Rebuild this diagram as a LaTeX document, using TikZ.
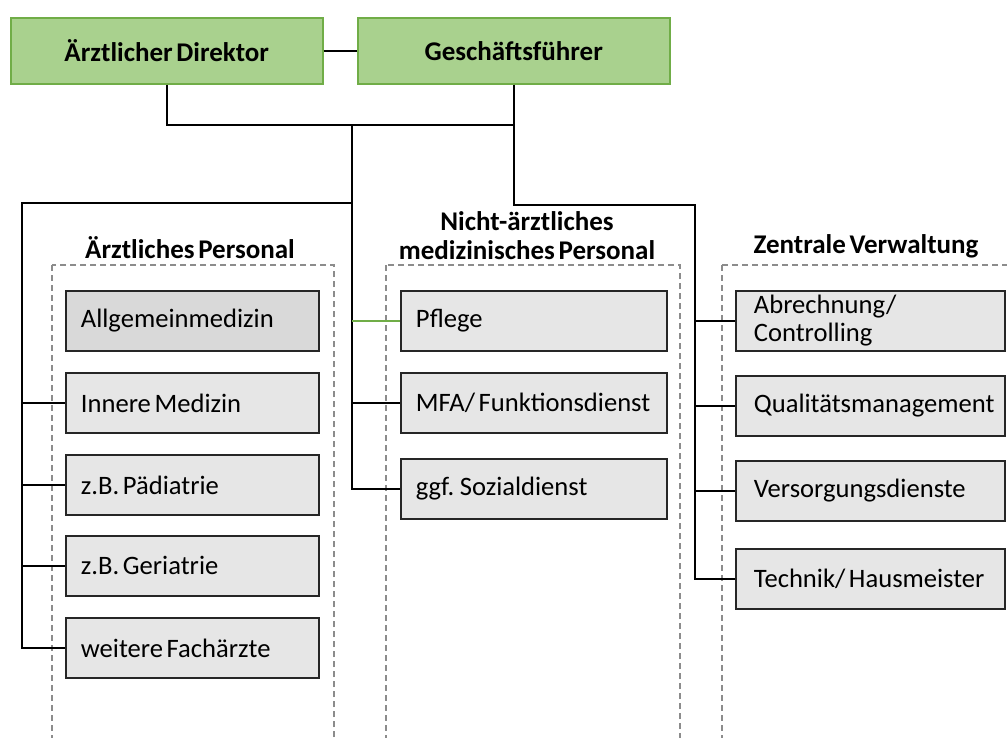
\documentclass[tikz,border=0pt]{standalone}
\usepackage{fontspec}
\setmainfont{Carlito}[WordSpace=0.6]
\definecolor{leadfill}{HTML}{A9D18E}
\definecolor{leadline}{HTML}{70AD47}
\definecolor{unitfill}{HTML}{E6E6E6}
\definecolor{unitdark}{HTML}{D9D9D9}
\definecolor{unitline}{HTML}{262626}
\definecolor{groupline}{HTML}{8C8C8C}
\begin{document}
\begin{tikzpicture}[x=1pt,y=-1pt,
  lead/.style={draw=leadline, fill=leadfill, line width=1.5pt,
    minimum width=312pt, minimum height=66pt, anchor=north west,
    font=\fontsize{27}{30}\selectfont\bfseries},
  unit/.style={draw=unitline, fill=unitfill, line width=1.8pt,
    minimum height=60pt, inner xsep=0pt, inner ysep=0pt, text width=#1,
    align=flush left, anchor=north west, font=\fontsize{26.6}{28}\selectfont,
    execute at begin node={\hyphenpenalty=10000\relax}},
  pad/.style={execute at begin node={\leftskip=#1\relax}},
  grouptitle/.style={align=center, font=\fontsize{27}{29}\selectfont\bfseries},
  group/.style={draw=groupline, line width=1.2pt, dash pattern=on 6pt off 4pt},
  link/.style={draw=black, line width=1.8pt},
  greenlink/.style={draw=leadline, line width=1.5pt}]

\useasboundingbox (0,0) rectangle (1007,737);
\clip (0,0) rectangle (1007,737);

% management
\node[lead] (ad) at (10,17) {Ärztlicher Direktor};
\node[lead] (gf) at (357,17) {Geschäftsführer};
\draw[link] (ad.east) -- (gf.east -| gf.west);

% dashed group frames and titles
\draw[group] (52,265) rectangle (334,760);
\draw[group] (386,265) rectangle (680,760);
\draw[group] (722,265) rectangle (1030,760);
\node[grouptitle] (t1) at (190,248) {Ärztliches Personal};
\node[grouptitle] (t2) at (527,236) {Nicht-ärztliches\\medizinisches Personal};
\node[grouptitle] (t3) at (866,246) {Zentrale Verwaltung};

% medical staff
\node[unit=253pt, pad=15pt, fill=unitdark] (allg) at (65,290) {Allgemeinmedizin};
\node[unit=253pt, pad=15pt] (inn) at (65,372) {Innere Medizin};
\node[unit=253pt, pad=15pt] (paed) at (65,454) {z.B. Pädiatrie};
\node[unit=253pt, pad=15pt] (ger) at (65,535) {z.B. Geriatrie};
\node[unit=253pt, pad=15pt] (wfa) at (65,617) {weitere Fachärzte};

% non-medical clinical staff
\node[unit=266pt, pad=15pt] (pfl) at (400,290) {Pflege};
\node[unit=266pt, pad=15pt] (mfa) at (400,372) {MFA/ Funktionsdienst};
\node[unit=266pt, pad=15pt] (soz) at (400,458) {ggf. Sozialdienst};

% central administration
\node[unit=269pt, pad=18pt] (abr) at (735,290) {Abrechnung/\\Controlling};
\node[unit=269pt, pad=18pt] (qm) at (735,375) {Qualitätsmanagement};
\node[unit=269pt, pad=18pt] (vd) at (735,460) {Versorgungsdienste};
\node[unit=269pt, pad=18pt] (th) at (735,548) {Technik/ Hausmeister};

% junction points of the tree
\coordinate (top) at (352,125);
\coordinate (mid) at (352,203);
\coordinate (lft) at (22,203);
\coordinate (rgt) at (695,205);

% connectors
\draw[link] (ad.south) |- (top) -| (gf.south);
\draw[link] (gf.south) |- (rgt) |- (th.west);
\draw[link] (top) |- (soz.west);
\draw[link] (mid) -- (lft) |- (wfa.west);

\draw[link] (lft |- inn.west) -- (inn.west);
\draw[link] (lft |- paed.west) -- (paed.west);
\draw[link] (lft |- ger.west) -- (ger.west);

\draw[greenlink] (top |- pfl.west) -- (pfl.west);
\draw[link] (top |- mfa.west) -- (mfa.west);

\draw[link] (rgt |- abr.west) -- (abr.west);
\draw[link] (rgt |- qm.west) -- (qm.west);
\draw[link] (rgt |- vd.west) -- (vd.west);
\end{tikzpicture}
\end{document}
